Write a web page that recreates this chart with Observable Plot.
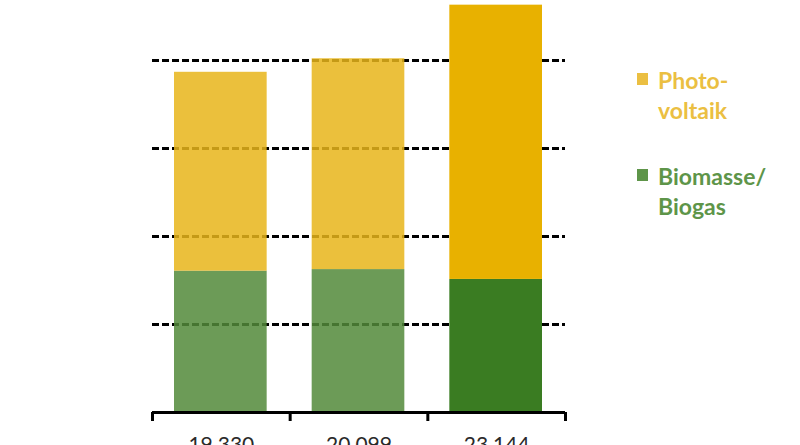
<!DOCTYPE html>
<html>
<head>
<meta charset="utf-8">
<script src="https://cdn.jsdelivr.net/npm/d3@7"></script>
<script src="https://cdn.jsdelivr.net/npm/@observablehq/plot@0.6"></script>
<style>
  html, body { margin: 0; padding: 0; background: #fff; }
  #wrap { position: relative; width: 800px; height: 445px; overflow: hidden; font-family: Lato, sans-serif; }
  #chart svg { display: block; }
  .sw { position: absolute; width: 11px; height: 12px; }
  .lt { position: absolute; font-family: Lato, sans-serif; font-weight: 700; font-size: 23px; line-height: 30px; white-space: nowrap; }
</style>
</head>
<body>
<div id="wrap">
  <div id="chart"></div>
  <div id="legend"></div>
</div>
<script>
// ---- data ----
const categories = ["19.330", "20.099", "23.144"];           // bar labels (totals)
const seriesNames = ["Biomasse/Biogas", "Photo-voltaik"];
const biomasse = [8030, 8120, 7560];
const photovoltaik = [11300, 11979, 15584];
const gridValues = [5000, 10000, 15000, 20000];
const legendLabels = [["Photo-", "voltaik"], ["Biomasse/", "Biogas"]];

// ---- styles ----
const lightColors = {"Biomasse/Biogas": "#52893a", "Photo-voltaik": "#e7b51a"};
const strongColors = {"Biomasse/Biogas": "#3a7c22", "Photo-voltaik": "#e8b100"};
const legendColors = ["#ebbf42", "#5e9549"];

const table = [];
categories.forEach((c, i) => {
  table.push({i, cat: c, series: seriesNames[0], value: biomasse[i]});
  table.push({i, cat: c, series: seriesNames[1], value: photovoltaik[i]});
});

const last = categories.length - 1;

const chart = Plot.plot({
  width: 800,
  height: 445,
  marginLeft: 152,
  marginRight: 235,
  marginTop: 0,
  marginBottom: 33,
  x: {type: "linear", domain: [0, categories.length]},
  y: {domain: [0, 23409], axis: null},
  style: {background: "transparent", overflow: "visible"},
  marks: [
    Plot.ruleY(gridValues, {stroke: "#000", strokeWidth: 3, strokeDasharray: "7,3"}),
    Plot.rectY(table, {
      x1: d => d.i,
      x2: d => d.i + 1,
      y: "value",
      fill: d => (d.i === last ? strongColors : lightColors)[d.series],
      fillOpacity: d => (d.i === last ? 1 : 0.85),
      insetLeft: 22,
      insetRight: 23
    }),
    Plot.ruleY([0], {stroke: "#000", strokeWidth: 3}),
    Plot.axisX(d3.range(categories.length + 1), {
      tickSize: 9, tickFormat: () => "", strokeWidth: 3, stroke: "#000"
    }),
    Plot.axisX(categories.map((c, i) => i + 0.5), {
      tickSize: 0, tickPadding: 25,
      tickFormat: d => categories[Math.floor(d)],
      fontSize: 21, fill: "#2a2a2a", fontFamily: "Lato, sans-serif"
    })
  ]
});
document.getElementById("chart").appendChild(chart);

// ---- legend ----
const legend = document.getElementById("legend");
const legendTops = [65, 161];
legendLabels.forEach((lines, k) => {
  const sw = document.createElement("div");
  sw.className = "sw";
  sw.style.left = "637px";
  sw.style.top = (legendTops[k] + 8) + "px";
  sw.style.background = legendColors[k];
  legend.appendChild(sw);
  const t = document.createElement("div");
  t.className = "lt";
  t.style.left = "658px";
  t.style.top = legendTops[k] + "px";
  t.style.color = legendColors[k];
  t.innerHTML = lines.join("<br>");
  legend.appendChild(t);
});
</script>
</body>
</html>
